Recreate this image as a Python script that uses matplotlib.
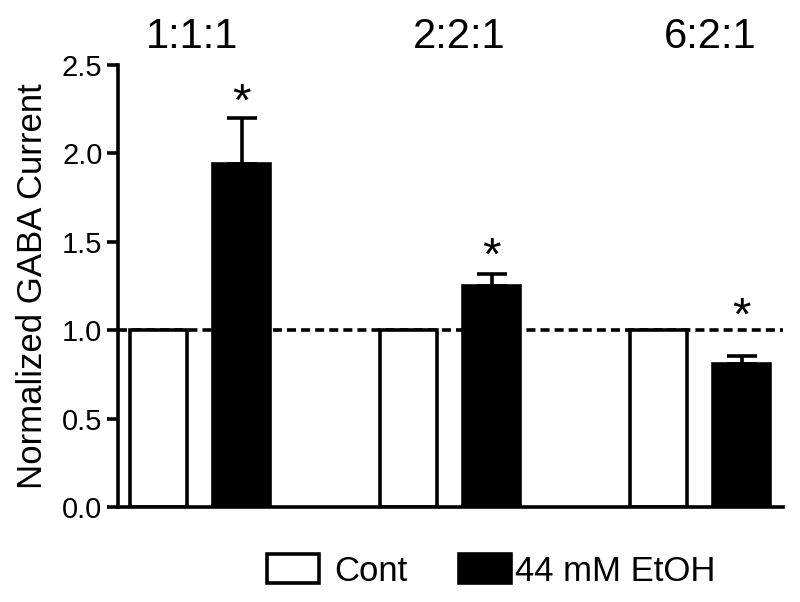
import matplotlib
matplotlib.use('Agg')
import matplotlib.pyplot as plt
import matplotlib.patches as mpatches
import matplotlib.transforms as mtransforms

plt.rcParams['font.family'] = ['Liberation Sans', 'DejaVu Sans']

# data
ratios = ['1:1:1', '2:2:1', '6:2:1']
cont = [1.0, 1.0, 1.0]
etoh = [1.94, 1.25, 0.81]
etoh_sem = [0.26, 0.07, 0.045]
star_y = [2.36, 1.49, 1.15]   # centre of the significance asterisks

fig = plt.figure(figsize=(8, 6.02), dpi=100)
ax = fig.add_axes([118/800, 95/602, 665/800, 442/602])

lw = 2.6
width = 0.684
x_cont = [3*i for i in range(len(ratios))]
x_etoh = [3*i + 1 for i in range(len(ratios))]

ax.axhline(1.0, color='black', lw=lw, ls=(0, (2.5, 1.4)), dash_capstyle='butt', zorder=1)

ax.bar(x_cont, cont, width=width, color='white', edgecolor='black', linewidth=lw, zorder=2)
ax.bar(x_etoh, etoh, width=width, color='black', edgecolor='black', linewidth=lw, zorder=2)
ax.errorbar(x_etoh, etoh, yerr=[[0]*len(etoh), etoh_sem], fmt='none', ecolor='black',
            elinewidth=lw, capsize=10.8, capthick=lw, zorder=1.5)

for x, y in zip(x_etoh, star_y):
    ax.annotate('*', (x, y), xytext=(0, -19), textcoords='offset points',
                ha='center', va='baseline', fontsize=34)

# group labels above the axes (the source places them slightly off centre)
label_shift = [-0.1, 0.11, 0.12]
trans = mtransforms.blended_transform_factory(ax.transData, fig.transFigure)
for xc, xe, lab, dx in zip(x_cont, x_etoh, ratios, label_shift):
    fig.text((xc + xe) / 2 + dx, 1 - 48/602, lab, transform=trans,
             ha='center', va='baseline', fontsize=30)

ax.set_xlim(-0.486, 7.494)
ax.set_ylim(0, 2.5)
ax.set_yticks([0, 0.5, 1.0, 1.5, 2.0, 2.5])
ax.set_yticklabels(['0.0', '0.5', '1.0', '1.5', '2.0', '2.5'])
ax.set_xticks([])
ax.tick_params(axis='y', length=8, width=lw, labelsize=21, pad=3.2)
ax.set_ylabel('Normalized GABA Current', fontsize=25, labelpad=9)

for s in ['top', 'right']:
    ax.spines[s].set_visible(False)
for s in ['left', 'bottom']:
    ax.spines[s].set_linewidth(lw)

# legend, two separate entries to get the uneven spacing
h_cont = mpatches.Patch(facecolor='white', edgecolor='black', linewidth=lw)
h_etoh = mpatches.Patch(facecolor='black', edgecolor='black', linewidth=lw)
common = dict(frameon=False, fontsize=25, handlelength=1.5, handleheight=0.92,
              borderpad=0, borderaxespad=0, loc='center left')
fig.legend([h_cont], ['Cont'], bbox_to_anchor=(267/800, 1 - 571/602), handletextpad=0.45, **common)
fig.legend([h_etoh], ['44 mM EtOH'], bbox_to_anchor=(459/800, 1 - 571/602), handletextpad=0.1, **common)

fig.savefig('out.png', dpi=100)
